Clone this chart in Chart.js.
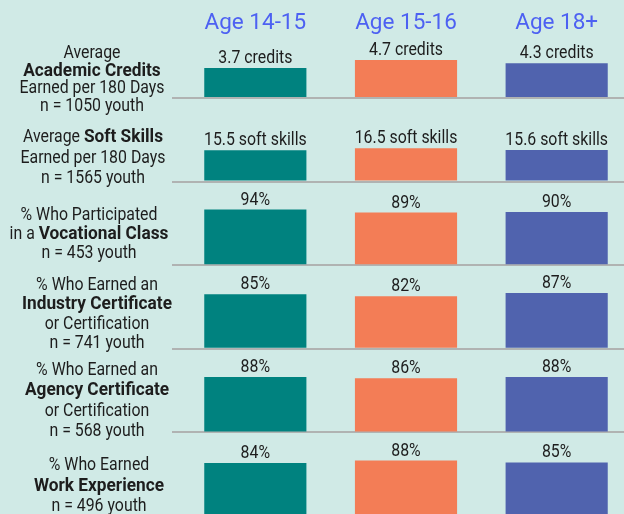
<!DOCTYPE html>
<html>
<head>
<meta charset="utf-8">
<script src="https://cdn.jsdelivr.net/npm/chart.js@4"></script>
<style>
  html, body { margin: 0; padding: 0; background: #d0eae6; overflow: hidden; }
  #wrap { width: 624px; height: 514px; overflow: hidden; }
  canvas { display: block; }
</style>
</head>
<body>
<div id="wrap"><canvas id="youthChart" width="632" height="516"></canvas></div>
<script>
// data
const ages = ['Age 14-15', 'Age 15-16', 'Age 18+'];
const academicCredits = [3.7, 4.7, 4.3];
const softSkills = [15.5, 16.5, 15.6];
const vocationalClass = [94, 89, 90];
const industryCert = [85, 82, 87];
const agencyCert = [88, 86, 88];
const workExperience = [84, 88, 85];

const rowValues = [academicCredits, softSkills, vocationalClass, industryCert, agencyCert, workExperience];
const valueSuffix = [' credits', ' soft skills', '%', '%', '%', '%'];
const rowLabels = [
  ['Average', '**Academic Credits**', 'Earned per 180 Days', 'n = 1050 youth'],
  ['Average **Soft Skills**', 'Earned per 180 Days', 'n = 1565 youth'],
  ['% Who Participated', 'in a **Vocational Class**', 'n = 453 youth'],
  ['% Who Earned an', '**Industry Certificate**', 'or Certification', 'n = 741 youth'],
  ['% Who Earned an', '**Agency Certificate**', 'or Certification', 'n = 568 youth'],
  ['% Who Earned', '**Work Experience**', 'n = 496 youth']
];

// styling / layout
const barColors = ['#00827f', '#f37d56', '#5063ae'];
const rowMax = [7.41, 41.2, 141.2, 130.2, 132.7, 132.7];   // top of each row's axis
const labelLayout = [[-39.6, 17.5, 92], [-39.6, 20.5, 93], [-45.2, 19.2, 89], [-58.6, 19.2, 97], [-57.2, 20.2, 97], [-45.8, 20.4, 99]];
const textFont = '18px Roboto, sans-serif';
const boldFont = 'bold 18px Roboto, sans-serif';
const textColor = '#1d1d1d';
let squeeze = 1;       // horizontal squeeze to look like a condensed face
let boldSqueeze = 1;

const scales = {
  x: {
    position: 'top',
    offset: true,
    grid: { display: false, drawTicks: false },
    border: { display: false },
    ticks: { color: '#4d61f2', font: { family: 'Roboto', size: 22.5 }, padding: 1 },
    afterFit: s => { s.height = 38; }
  }
};
rowValues.forEach((v, i) => {
  scales['r' + i] = {
    type: 'linear',
    position: 'left',
    stack: 'rows',
    stackWeight: i === 0 ? 0.718 : 1,
    weight: rowValues.length - i,
    min: 0,
    max: rowMax[i],
    ticks: { display: false },
    grid: {
      color: c => (c.tick && c.tick.value === 0) ? '#b0b3b2' : 'rgba(0,0,0,0)',
      lineWidth: 2,
      tickLength: 8
    },
    border: { display: false },
    afterFit: s => { s.width = 180; }
  };
});

function squeezedText(ctx, text, x, y, sx) {
  ctx.save();
  ctx.translate(x, y);
  ctx.scale(sx, 1);
  ctx.fillText(text, 0, 0);
  ctx.restore();
}

function drawRich(ctx, line, cx, y) {
  const parts = line.split('**');
  const fonts = parts.map((p, k) => k % 2 ? boldFont : textFont);
  const scalesX = parts.map((p, k) => k % 2 ? boldSqueeze : squeeze);
  const widths = parts.map((p, k) => {
    ctx.font = fonts[k];
    return p ? ctx.measureText(p).width * scalesX[k] : 0;
  });
  let x = cx - widths.reduce((a, b) => a + b, 0) / 2;
  parts.forEach((p, k) => {
    ctx.font = fonts[k];
    squeezedText(ctx, p, x, y, scalesX[k]);
    x += widths[k];
  });
}

const rowLabelPlugin = {
  id: 'rowLabels',
  afterDraw(chart) {
    const ctx = chart.ctx;
    ctx.save();
    ctx.fillStyle = textColor;
    ctx.textAlign = 'left';
    ctx.textBaseline = 'alphabetic';
    rowLabels.forEach((lines, i) => {
      const base = chart.scales['r' + i].getPixelForValue(0);
      const [off, gap, cx] = labelLayout[i];
      lines.forEach((line, k) => drawRich(ctx, line, cx, base + off + k * gap));
    });
    ctx.restore();
  }
};

const valueLabelPlugin = {
  id: 'valueLabels',
  afterDatasetsDraw(chart) {
    const ctx = chart.ctx;
    ctx.save();
    ctx.font = textFont;
    squeeze = 145 / ctx.measureText('Earned per 180 Days').width;
    ctx.font = boldFont;
    boldSqueeze = 150 / ctx.measureText('Industry Certificate').width;
    ctx.font = textFont;
    ctx.fillStyle = textColor;
    ctx.textAlign = 'center';
    ctx.textBaseline = 'alphabetic';
    chart.data.datasets.forEach((ds, i) => {
      chart.getDatasetMeta(i).data.forEach((bar, j) => {
        squeezedText(ctx, ds.data[j] + valueSuffix[i], bar.x, bar.y - 5, squeeze);
      });
    });
    ctx.restore();
  }
};

new Chart(document.getElementById('youthChart'), {
  type: 'bar',
  data: {
    labels: ages,
    datasets: rowValues.map((vals, i) => ({
      data: vals,
      yAxisID: 'r' + i,
      backgroundColor: barColors,
      grouped: false,
      categoryPercentage: 1,
      barPercentage: 0.678
    }))
  },
  options: {
    responsive: false,
    animation: false,
    devicePixelRatio: 1,
    layout: { padding: 0 },
    plugins: { legend: { display: false }, tooltip: { enabled: false } },
    scales: scales
  },
  plugins: [rowLabelPlugin, valueLabelPlugin]
});
</script>
</body>
</html>
